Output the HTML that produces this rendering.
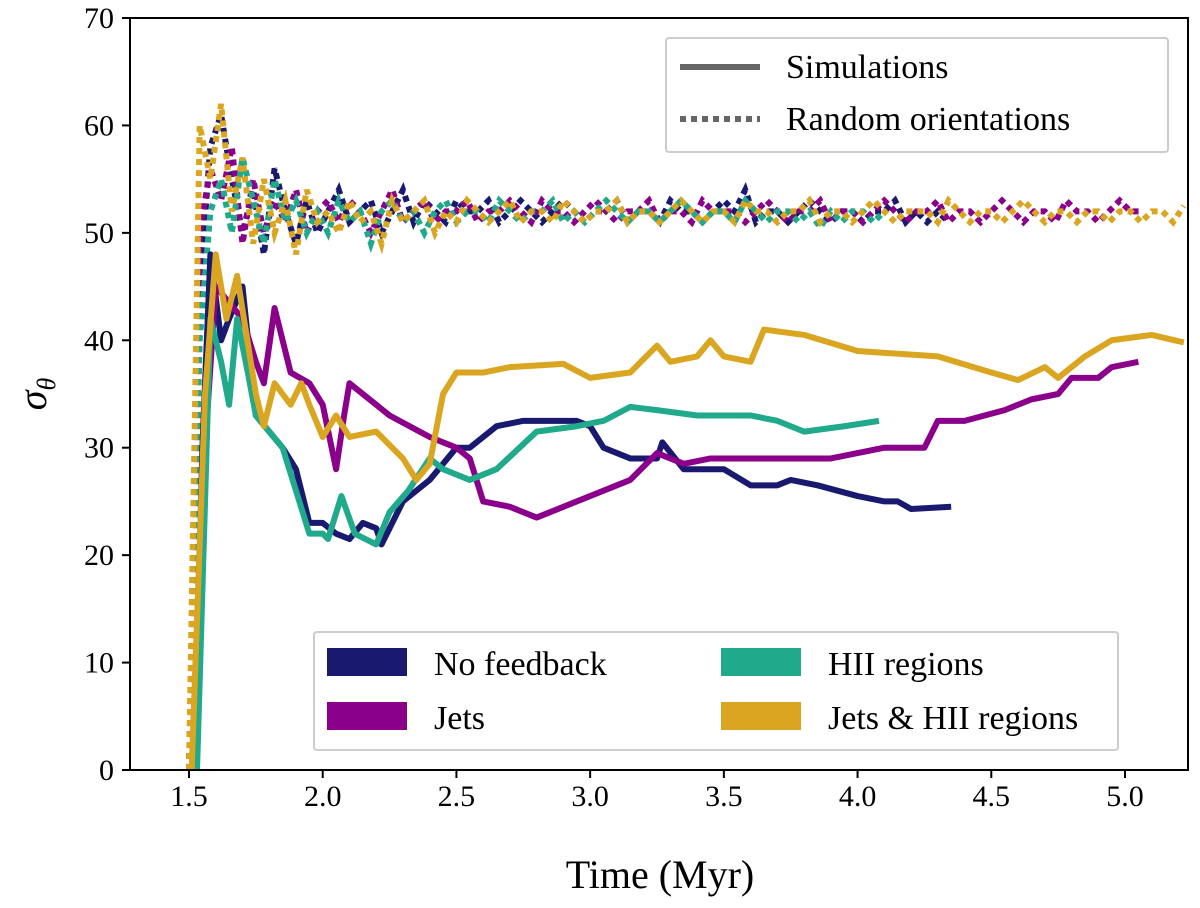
<!DOCTYPE html>
<html><head><meta charset="utf-8"><style>
body{margin:0;background:#fff}
svg text{font-family:"Liberation Serif",serif;fill:#000}
</style></head><body>
<svg id="chart" width="1200" height="903" xmlns="http://www.w3.org/2000/svg">
<g id="marks"></g>
<rect x="130" y="18" width="1058" height="752" fill="none" stroke="#000" stroke-width="2"/>
<g id="axes"></g>
<text x="660" y="888" font-size="40" text-anchor="middle">Time (Myr)</text>
<text transform="translate(46,394) rotate(-90)" font-size="40" font-style="italic" text-anchor="middle">σ<tspan font-size="26" dy="9">θ</tspan></text>
<g>
<rect x="666" y="38" width="502" height="114" fill="#fff" stroke="#ccc" stroke-width="2" rx="3"/>
<line x1="680" y1="67" x2="760" y2="67" stroke="#666" stroke-width="6"/>
<line x1="680" y1="119" x2="760" y2="119" stroke="#666" stroke-width="6" stroke-dasharray="6 5"/>
<text x="786" y="78" font-size="34">Simulations</text>
<text x="786" y="130" font-size="34">Random orientations</text>
</g>
<g>
<rect x="314" y="632" width="804" height="118" fill="#fff" stroke="#ccc" stroke-width="2" rx="3"/>
<rect x="327" y="648" width="80" height="28" fill="#191970"/>
<rect x="327" y="702" width="80" height="28" fill="#8b008b"/>
<rect x="721" y="648" width="80" height="28" fill="#20a98a"/>
<rect x="721" y="702" width="80" height="28" fill="#daa520"/>
<text x="434" y="675" font-size="34">No feedback</text>
<text x="434" y="729" font-size="34">Jets</text>
<text x="828" y="675" font-size="34">HII regions</text>
<text x="828" y="729" font-size="34">Jets &amp; HII regions</text>
</g>
</svg>
<script>
const xTicks=[1.5,2.0,2.5,3.0,3.5,4.0,4.5,5.0];
const yTicks=[0,10,20,30,40,50,60,70];
const colors=["#191970","#8b008b","#20a98a","#daa520"];
const simNoFbT=[1.52,1.55,1.58,1.62,1.65,1.7,1.75,1.85,1.9,1.95,2.0,2.05,2.1,2.15,2.2,2.22,2.3,2.4,2.5,2.55,2.65,2.75,2.85,2.95,3.0,3.05,3.15,3.25,3.27,3.35,3.5,3.6,3.7,3.75,3.85,4.0,4.1,4.15,4.2,4.35];
const simNoFbV=[0,30,48,40,42,45,33,30,28,23,23,22,21.5,23,22.5,21,25,27,30,30,32,32.5,32.5,32.5,32,30,29,29,30.5,28,28,26.5,26.5,27,26.5,25.5,25,25,24.3,24.5];
const simJetsT=[1.52,1.56,1.6,1.7,1.75,1.78,1.82,1.88,1.95,2.0,2.05,2.08,2.1,2.15,2.25,2.4,2.5,2.55,2.6,2.7,2.8,2.9,3.05,3.15,3.25,3.35,3.45,3.7,3.9,4.1,4.25,4.3,4.4,4.55,4.65,4.75,4.8,4.9,4.95,5.05];
const simJetsV=[0,30,45,42,38,36,43,37,36,34,28,33,36,35,33,31,30,29,25,24.5,23.5,24.5,26,27,29.5,28.5,29,29,29,30,30,32.5,32.5,33.5,34.5,35,36.5,36.5,37.5,38];
const simHiiT=[1.53,1.56,1.58,1.62,1.65,1.68,1.72,1.75,1.85,1.9,1.95,2.0,2.02,2.07,2.12,2.2,2.25,2.32,2.4,2.45,2.55,2.65,2.8,2.95,3.05,3.15,3.25,3.4,3.6,3.7,3.8,3.95,4.08];
const simHiiV=[0,25,42,38,34,42,37,33,30,26,22,22,21.5,25.5,22,21,24,26,29,28,27,28,31.5,32,32.5,33.8,33.5,33,33,32.5,31.5,32,32.5];
const simBothT=[1.51,1.56,1.6,1.64,1.68,1.75,1.78,1.82,1.88,1.92,1.95,2.0,2.05,2.1,2.2,2.3,2.35,2.4,2.45,2.5,2.6,2.7,2.9,3.0,3.15,3.25,3.3,3.4,3.45,3.5,3.6,3.65,3.8,4.0,4.3,4.5,4.6,4.7,4.75,4.85,4.95,5.1,5.22];
const simBothV=[0,35,48,42,46,35,32,36,34,36,34,31,33,31,31.5,29,27,28.5,35,37,37,37.5,37.8,36.5,37,39.5,38,38.5,40,38.5,38,41,40.5,39,38.5,37,36.3,37.5,36.5,38.5,40,40.5,39.8];
const rndStart=1.50, rndStep=0.04;
const rndNoFb=[0,45,58,61,55,50,54,48,56,52,49,53,50,52,54,51,52,53,50,52,54,51,53,52,51,53,52,52,53,51,52,53,52,51,52,53,52,51,52,52,53,51,52,52,51,53,52,52,51,52,53,52,54,51,52,52,51,52,53,52,51,52,52,51,52,52,53,51,52,51,52,51];
const rndJets=[0,50,56,53,58,49,55,50,53,51,54,50,52,53,51,53,52,50,52,54,51,52,53,51,52,52,53,51,52,52,53,52,51,53,52,52,51,52,53,52,51,52,52,53,51,52,52,51,53,52,52,52,51,52,53,52,51,52,52,53,51,52,52,51,52,53,52,51,52,52,53,51,52,52,51,52,53,52,51,52,52,51,53,52,52,51,52,53,52,52];
const rndHii=[0,40,52,55,50,57,53,49,55,51,53,50,52,50,53,51,52,49,52,53,51,52,50,52,53,51,52,52,51,53,52,51,52,52,53,51,52,51,52,53,52,51,52,52,51,52,53,52,51,52,52,51,53,52,51,52,52,51,52,50.5,52,51,52,52,51,52];
const rndBoth=[0,60,55,62,52,57,49,55,50,53,48,54,51,52,50,53,51,52,49,53,51,52,53,50,52,51,53,52,51,52,53,51,52,52,51,53,52,51,52,52,53,51,52,52,51,52,53,52,51,52,52,51,53,52,52,51,52,52,53,51,52,52,51,52,53,52,51,52,52,52,51,53,52,51,52,52,51,52,53,52,51,52,52,51,52,52,51,52,52,51,52,52,51,52.5];
const X=t=>189+(t-1.5)*(1125-189)/3.5;
const Y=v=>770-v*(752/70);
const NS="http://www.w3.org/2000/svg";
const marks=document.getElementById('marks'), axes=document.getElementById('axes');
function mk(tag,attrs,parent){const e=document.createElementNS(NS,tag);for(const k in attrs)e.setAttribute(k,attrs[k]);parent.appendChild(e);return e;}
xTicks.forEach(t=>{
 const l=mk('line',{x1:X(t),x2:X(t),y1:770,y2:778,stroke:'#000','stroke-width':2},axes);
 
 
 const tx=mk('text',{x:X(t),y:806,'font-size':30,'text-anchor':'middle'},axes);tx.textContent=t.toFixed(1);
 
 
});
yTicks.forEach(v=>{
 const l=mk('line',{x1:122,x2:130,y1:Y(v),y2:Y(v),stroke:'#000','stroke-width':2},axes);
 
 
 const tx=mk('text',{x:114,y:Y(v)+10,'font-size':30,'text-anchor':'end'},axes);tx.textContent=v;
 
 
});
const rnd=[rndNoFb,rndJets,rndHii,rndBoth];
rnd.forEach((arr,i)=>{
 const p=mk('polyline',{points:arr.map((v,j)=>X(rndStart+j*rndStep)+','+Y(v)).join(' '),fill:'none',stroke:colors[i],'stroke-width':6,'stroke-dasharray':'6 5'},marks);
 
 
});
const sims=[[simNoFbT,simNoFbV],[simJetsT,simJetsV],[simHiiT,simHiiV],[simBothT,simBothV]];
sims.forEach((s,i)=>{
 const p=mk('polyline',{points:s[0].map((t,j)=>X(t)+','+Y(s[1][j])).join(' '),fill:'none',stroke:colors[i],'stroke-width':6,'stroke-linejoin':'round'},marks);
 
 
});
</script>
</body></html>
